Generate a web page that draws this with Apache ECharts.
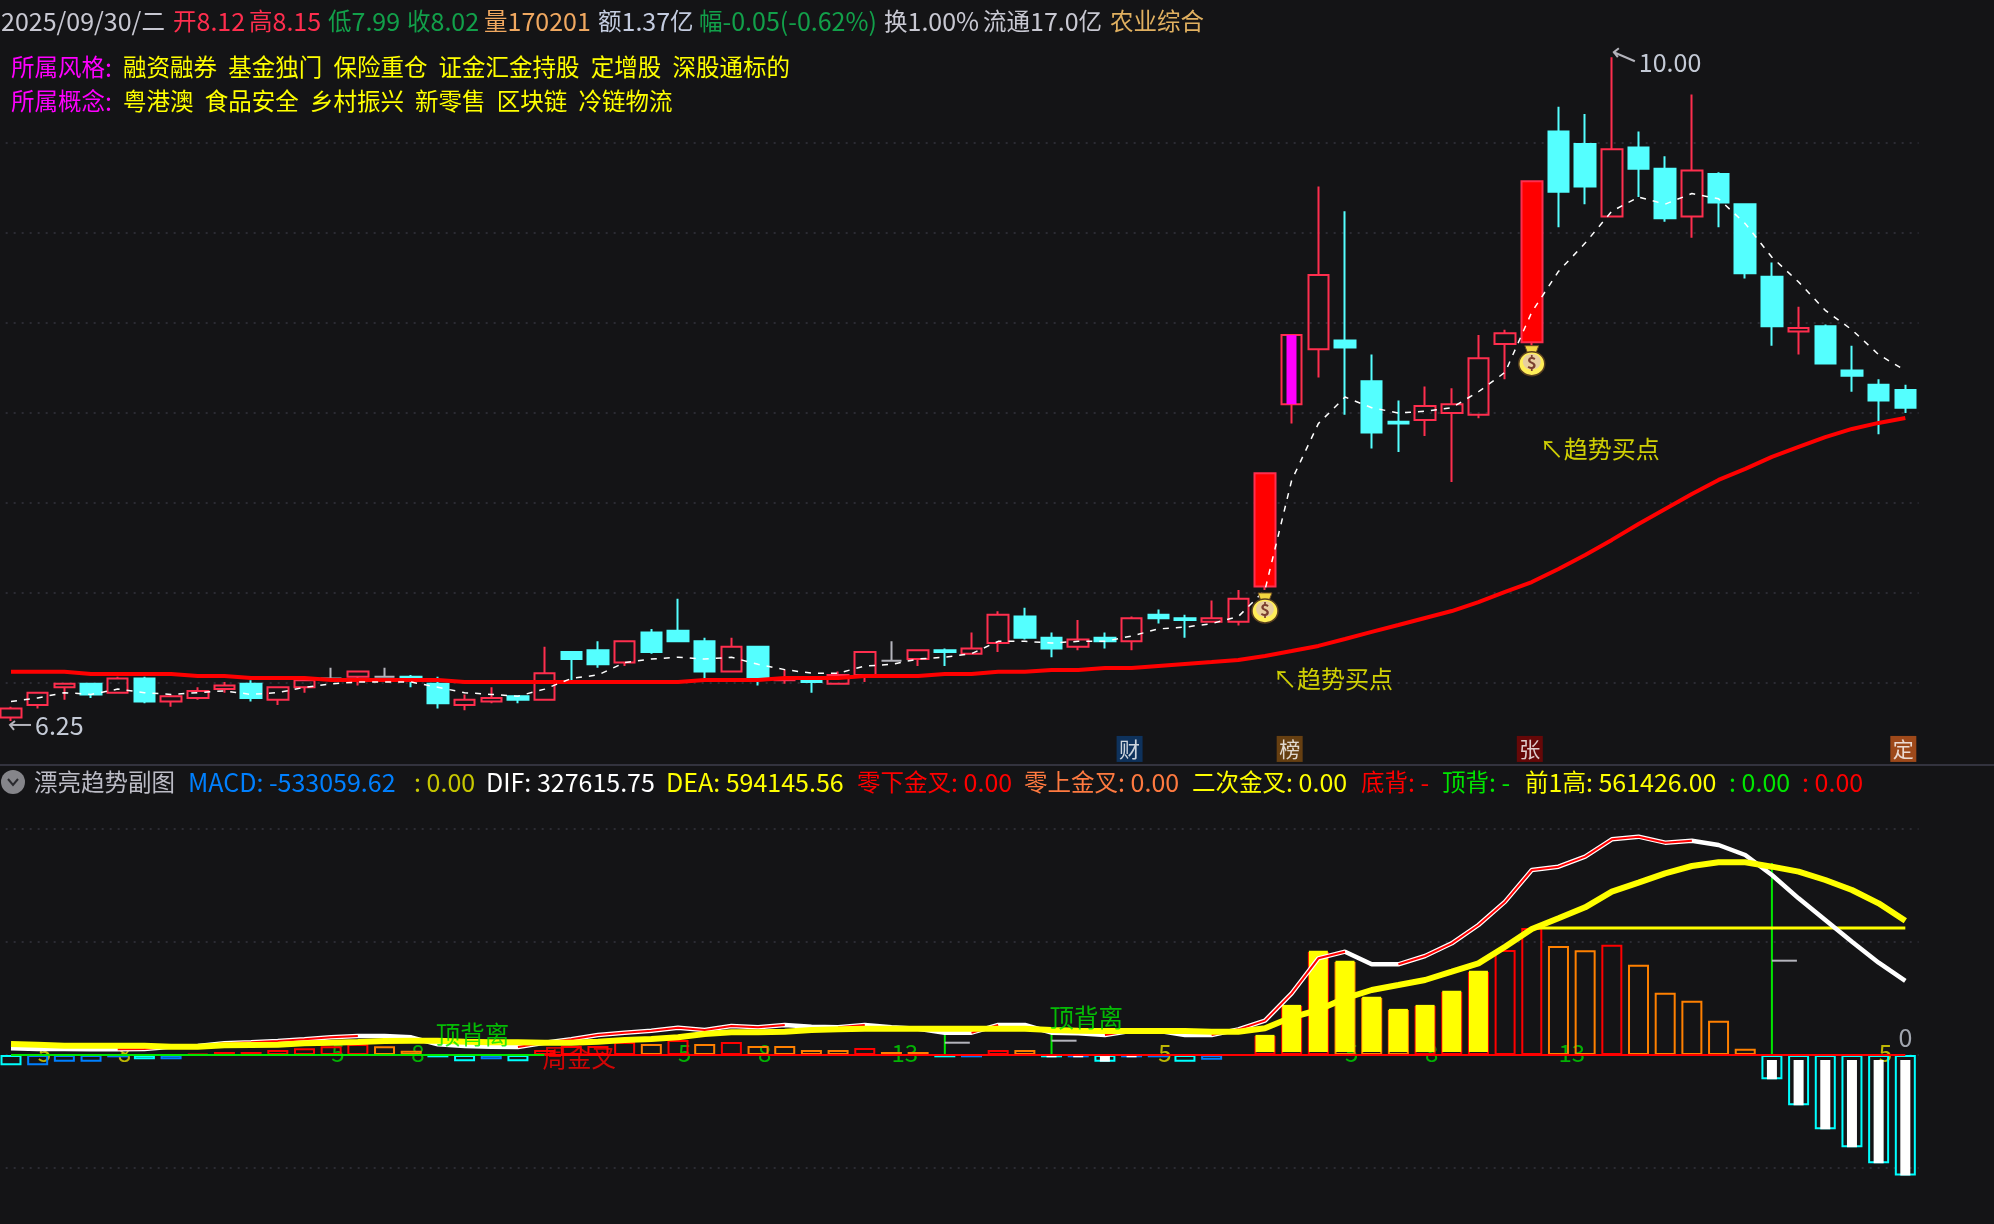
<!DOCTYPE html>
<html>
<head>
<meta charset="utf-8">
<title>漂亮趋势副图</title>
<script src="https://cdn.jsdelivr.net/npm/echarts@6/dist/echarts.min.js"></script>
<style>
html, body { margin: 0; padding: 0; background: #141416; }
#main { width: 1994px; height: 1224px; }
</style>
</head>
<body>
<div id="main"></div>
<script>
// K线
var opens = [6.27,6.34,6.44,6.46,6.41,6.49,6.36,6.38,6.43,6.46,6.37,6.44,6.49,6.50,6.50,6.50,6.46,6.34,6.36,6.39,6.37,6.64,6.65,6.58,6.75,6.76,6.70,6.53,6.67,6.48,6.48,6.46,6.51,6.59,6.60,6.65,6.63,6.69,6.84,6.72,6.67,6.72,6.70,6.85,6.83,6.81,6.81,7.01,8.04,8.35,8.40,8.17,7.94,7.95,7.99,7.98,8.38,8.39,9.58,9.51,9.10,9.49,9.37,9.10,9.34,9.17,8.76,8.45,8.48,8.23,8.15,8.12];
var closes = [6.32,6.41,6.46,6.40,6.49,6.36,6.39,6.42,6.45,6.38,6.44,6.48,6.49,6.53,6.50,6.48,6.35,6.37,6.38,6.37,6.52,6.60,6.57,6.70,6.64,6.70,6.53,6.67,6.49,6.49,6.47,6.51,6.64,6.59,6.65,6.64,6.66,6.85,6.72,6.66,6.71,6.70,6.83,6.83,6.82,6.83,6.94,7.65,8.43,8.77,8.36,7.88,7.93,8.03,8.04,8.30,8.44,9.30,9.24,9.27,9.48,9.37,9.09,9.36,9.18,8.78,8.48,8.47,8.27,8.20,8.06,8.02];
var lows = [6.25,6.32,6.37,6.38,6.41,6.35,6.33,6.37,6.41,6.36,6.34,6.41,6.49,6.45,6.50,6.44,6.32,6.31,6.35,6.35,6.37,6.48,6.55,6.56,6.63,6.70,6.49,6.53,6.45,6.46,6.41,6.46,6.47,6.59,6.56,6.56,6.63,6.64,6.71,6.61,6.65,6.66,6.65,6.80,6.72,6.81,6.79,6.99,7.93,8.19,7.98,7.79,7.77,7.86,7.60,7.96,8.18,8.37,9.04,9.17,9.10,9.21,9.07,8.98,9.04,8.75,8.37,8.32,8.27,8.11,7.87,7.99];
var highs = [6.33,6.41,6.46,6.46,6.50,6.50,6.39,6.44,6.47,6.48,6.44,6.48,6.55,6.53,6.55,6.51,6.50,6.40,6.44,6.39,6.67,6.64,6.70,6.70,6.77,6.94,6.72,6.72,6.67,6.54,6.48,6.53,6.64,6.70,6.65,6.66,6.75,6.87,6.89,6.75,6.82,6.75,6.84,6.88,6.85,6.93,6.99,7.65,8.43,9.27,9.13,8.32,8.06,8.14,8.13,8.43,8.46,9.30,9.72,9.68,10.00,9.58,9.44,9.79,9.35,9.17,8.84,8.59,8.49,8.37,8.18,8.15];
// 白色虚线
var shortMa = [6.36,6.38,6.41,6.40,6.43,6.41,6.40,6.41,6.42,6.40,6.41,6.44,6.46,6.47,6.47,6.47,6.44,6.41,6.40,6.39,6.43,6.49,6.51,6.58,6.60,6.61,6.60,6.61,6.57,6.54,6.52,6.52,6.56,6.57,6.60,6.61,6.63,6.70,6.70,6.69,6.70,6.70,6.73,6.77,6.78,6.80,6.84,6.99,7.61,7.93,8.08,8.02,7.99,8.00,8.02,8.11,8.22,8.56,8.79,8.95,9.13,9.21,9.17,9.23,9.20,9.06,8.87,8.73,8.57,8.46,8.32,8.23];
// 红色粗线
var longMa = [6.528,6.528,6.528,6.515,6.515,6.515,6.515,6.504,6.504,6.493,6.493,6.493,6.482,6.482,6.482,6.482,6.482,6.470,6.470,6.470,6.470,6.470,6.470,6.470,6.470,6.470,6.482,6.482,6.482,6.493,6.493,6.493,6.504,6.504,6.504,6.515,6.515,6.528,6.528,6.538,6.538,6.549,6.549,6.561,6.572,6.583,6.595,6.617,6.645,6.674,6.713,6.753,6.792,6.832,6.871,6.922,6.979,7.035,7.109,7.188,7.273,7.363,7.448,7.532,7.612,7.674,7.742,7.798,7.854,7.900,7.934,7.962];
// 副图
var macd = [-45600,-45600,-29600,-29600,-10200,-19000,-19000,4400,13300,13400,22100,29600,38500,48700,38500,19000,-10200,-27900,-19000,-27900,22100,39800,39900,57500,48700,66400,48700,57500,39800,39700,22100,21900,31000,13300,13200,-10200,-10200,22100,21900,-10200,-10200,-29600,-10200,-10200,-29600,-20800,0,84100,216800,455800,411500,252200,199100,216800,278800,367300,464600,561426,482300,463300,488100,399600,275700,240300,151800,27900,-107500,-222600,-328800,-408400,-479200,-533060];
var dif = [29500,26500,26500,25100,25100,26500,36900,39800,51600,56000,61900,69300,78200,84100,84100,78200,47200,39800,36900,35400,54600,69300,88500,98800,107700,120900,110600,128300,122400,132700,125400,122400,132700,122400,116500,98800,98800,132700,132700,98800,95900,88500,107700,107700,88500,88500,113600,151900,272900,427700,457200,401200,401200,438000,494100,575200,678500,818600,833300,877600,954300,966100,939500,948400,929200,885000,796500,693200,597400,501500,408500,327616];
var dea = [48700,45700,41300,41300,41300,41300,36900,36900,42800,44200,45700,51600,54600,57500,61900,63400,63400,59000,56000,56000,54600,54600,59000,66400,70800,78200,92900,100300,100300,103200,110600,113600,116500,116500,116500,116500,116500,116500,116500,110600,107700,106200,106200,106200,106200,103200,103200,118000,166700,199100,250700,287600,309700,331900,368700,405600,479300,557500,604700,653400,722700,762500,803800,836300,852500,852500,833300,811200,774300,730100,671100,594146];
var prevHigh = 561426;
var prevHighFrom = 57;
var zeroSwitch = 20;
var yellowBars = [47,48,49,50,51,52,53,54,55];
var whiteBars = [39,40,41,42,66,67,68,69,70,71];
var whiteGaps = [0,0,0,0,22000,22000,22000,22000,22000,22000];
var signalIdx = [35,39,66];
var signalTop = [119500,119500,849600];
var signalTick = [54400,63300,417300];
var countIdx = [1,4,12,15,25,28,33,43,50,53,58,70];
var countText = ['5','8','5','8','5','8','13','5','5','8','13','5'];
var countYellow = [true,true,false,false,false,false,false,true,false,false,false,true];
// 标记
var tagIdx = [42,48,57,71];
var tagText = ['财','榜','张','定'];
var tagColor = ['#0d3a6e','#7a4a10','#7a0505','#c0561c'];
var tagPrice = 6.092;
var bagIdx = [47,57];
var bagPrice = [6.883,8.28];
var buyIdx = [47,57];
var buyPrice = [6.487,7.787];

var FONT = '"Noto Sans CJK SC", "Noto Sans", sans-serif';
var RED = '#ff2e4e';
var CYAN = '#54ffff';
var GRAY = '#b4b4bc';
var BG = '#141416';

var xIndex = opens.map(function (v, i) { return String(i); });
var candleData = opens.map(function (o, i) {
    var item = { value: [o, closes[i], lows[i], highs[i]] };
    if (o === closes[i]) {
        item.itemStyle = { color: GRAY, color0: GRAY, borderColor: GRAY, borderColor0: GRAY, borderColorDoji: GRAY };
    }
    if (i === 47 || i === 57) {
        item.itemStyle = { color: '#ff0000', borderColor: RED };
    }
    return item;
});
var purpleData = opens.map(function (o, i) {
    return i === 48 ? [o, closes[i], o, closes[i]] : [null, null, null, null];
});

function barColor(i) {
    var v = macd[i], prev = i > 0 ? macd[i - 1] : 0;
    if (v < 0) {
        return i === 0 || prev >= 0 || v < prev ? '#00ffff' : '#0080ff';
    }
    return v > prev ? '#ff0000' : '#ff8000';
}
var macdData = macd.map(function (v, i) {
    return {
        value: v,
        itemStyle: { color: 'transparent', borderColor: barColor(i), borderWidth: 2 }
    };
});
// DIF上升段中间的细红线
var difRising = dif.map(function (v, i) {
    var up = (i > 0 && v > dif[i - 1]) || (i < dif.length - 1 && dif[i + 1] > v);
    return up ? v : null;
});
var zeroLow = macd.map(function (v, i) { return i <= zeroSwitch ? 0 : null; });
var zeroHigh = macd.map(function (v, i) { return i >= zeroSwitch ? 0 : null; });
var prevHighLine = macd.map(function (v, i) { return i >= prevHighFrom ? prevHigh : null; });

// 柱子里面的实心部分
function fillRenderer(width, color) {
    return function (params, api) {
        var a = api.coord([api.value(0), api.value(1)]);
        var b = api.coord([api.value(0), api.value(2)]);
        return {
            type: 'rect',
            shape: { x: a[0] - width / 2, y: Math.min(a[1], b[1]), width: width, height: Math.abs(a[1] - b[1]) },
            style: { fill: color }
        };
    };
}
function renderSignal(params, api) {
    var x0 = api.coord([api.value(0), 0]);
    var top = api.coord([api.value(0), api.value(1)]);
    var tick = api.coord([api.value(0), api.value(2)]);
    return {
        type: 'group',
        children: [
            { type: 'line', shape: { x1: x0[0], y1: x0[1], x2: top[0], y2: top[1] }, style: { stroke: '#00e600', lineWidth: 2 } },
            { type: 'line', shape: { x1: tick[0], y1: tick[1], x2: tick[0] + 25, y2: tick[1] }, style: { stroke: GRAY, lineWidth: 2 } }
        ]
    };
}
function renderBag(params, api) {
    var p = api.coord([api.value(0), api.value(1)]);
    return {
        type: 'group',
        children: [
            { type: 'polygon', shape: { points: [[p[0] - 7, p[1] - 16], [p[0] + 7, p[1] - 16], [p[0] + 4, p[1] - 8], [p[0] - 4, p[1] - 8]] }, style: { fill: '#f4d640', stroke: '#6a4a20', lineWidth: 1 } },
            { type: 'ellipse', shape: { cx: p[0], cy: p[1] + 2, rx: 13, ry: 12 }, style: { fill: '#ffee58', stroke: '#5a4020', lineWidth: 1.5 } },
            { type: 'ellipse', shape: { cx: p[0], cy: p[1] + 0, rx: 9, ry: 8 }, style: { fill: '#e8cfa0' } },
            { type: 'text', style: { x: p[0], y: p[1] + 1, text: '$', fill: '#7a3f30', font: 'bold 17px ' + FONT, textAlign: 'center', textVerticalAlign: 'middle' } }
        ]
    };
}
// 最高最低价箭头
function renderExtreme(params, api) {
    var p = api.coord([api.value(0), api.value(1)]);
    var isHigh = api.value(2) === 1;
    var tipX = isHigh ? p[0] + 2 : p[0] - 1;
    var tipY = isHigh ? p[1] - 5 : p[1] + 4;
    var endX = tipX + 21;
    var endY = isHigh ? tipY + 9 : tipY;
    return {
        type: 'group',
        children: [
            { type: 'polyline', shape: { points: [[endX, endY], [tipX, tipY]] }, style: { stroke: GRAY, lineWidth: 2, fill: null } },
            { type: 'polyline', shape: { points: [[tipX + 5, tipY - 4], [tipX, tipY], [tipX + 4, tipY + 5]] }, style: { stroke: GRAY, lineWidth: 2, fill: null } },
            { type: 'text', style: { x: endX + 4, y: endY + 1, text: isHigh ? '10.00' : '6.25', fill: '#c4cad6', font: '25px ' + FONT, textVerticalAlign: 'middle' } }
        ]
    };
}

// 顶部文字
var headerRuns = [
    ['2025/09/30/二', 1, '#c8c8d2'], ['开8.12', 173, RED], ['高8.15', 249, RED], ['低7.99', 328, '#12a04a'],
    ['收8.02', 407, '#12a04a'], ['量170201', 484, '#f0a860'], ['额1.37亿', 598, '#c4cce0'], ['幅-0.05(-0.62%)', 699, '#12a04a'],
    ['换1.00%', 884, '#c8c8d2'], ['流通17.0亿', 983, '#c8c8d2'], ['农业综合', 1110, '#e0b060']
];
var styleLine = '融资融券  基金独门  保险重仓  证金汇金持股  定增股  深股通标的';
var conceptLine = '粤港澳  食品安全  乡村振兴  新零售  区块链  冷链物流';
var subRuns = [
    ['漂亮趋势副图', 34, '#bcbcc6'], ['MACD: -533059.62', 188, '#0080ff'], [': 0.00', 414, '#c8c800'], ['DIF: 327615.75', 486, '#ffffff'],
    ['DEA: 594145.56', 666, '#ffff00'], ['零下金叉: 0.00', 857, '#ff0000'], ['零上金叉: 0.00', 1024, '#ff7a40'], ['二次金叉: 0.00', 1192, '#ffff00'],
    ['底背: -', 1361, '#ff0000'], ['顶背: -', 1442, '#00e600'], ['前1高: 561426.00', 1525, '#ffff00'], [': 0.00', 1729, '#00e600'], [': 0.00', 1802, '#ff0000']
];
// 西文数字比汉字显得大，分开给字号
function textEl(t, x, y, color) {
    var parts = t.match(/[\x00-\x7f]+|[^\x00-\x7f]+/g);
    var s = parts.map(function (p) {
        return (/^[\x00-\x7f]/.test(p) ? '{a|' : '{c|') + p + '}';
    }).join('');
    return {
        type: 'text', z: 50,
        style: {
            text: s, x: x, y: y, textVerticalAlign: 'middle',
            rich: {
                a: { fill: color, fontSize: 25, fontFamily: FONT },
                c: { fill: color, fontSize: 23.5, fontFamily: FONT }
            }
        }
    };
}
var graphics = [];
headerRuns.forEach(function (r) { graphics.push(textEl(r[0], r[1], 21, r[2])); });
graphics.push(textEl('所属风格:', 11, 67, '#ff00ff'));
graphics.push(textEl(styleLine, 123, 67, '#ffff00'));
graphics.push(textEl('所属概念:', 11, 101, '#ff00ff'));
graphics.push(textEl(conceptLine, 123, 101, '#ffff00'));
subRuns.forEach(function (r) { graphics.push(textEl(r[0], r[1], 782, r[2])); });
graphics.push({ type: 'rect', z: 50, shape: { x: 0, y: 764, width: 1994, height: 2 }, style: { fill: '#33333e' } });
graphics.push({ type: 'circle', z: 50, shape: { cx: 13, cy: 782, r: 12 }, style: { fill: '#85858a' } });
graphics.push({ type: 'polyline', z: 51, shape: { points: [[8, 779], [13, 785], [18, 779]] }, style: { stroke: '#2a2a2e', lineWidth: 2, fill: null } });

function subLabel(idx, val, text, color, size) {
    return {
        value: [idx, val],
        label: { show: true, position: 'inside', offset: [8, 0], formatter: text, color: color, fontSize: size, fontFamily: FONT }
    };
}

var chart = echarts.init(document.getElementById('main'));
chart.setOption({
    backgroundColor: BG,
    animation: false,
    graphic: graphics,
    grid: [
        { left: -2.34, width: 1921, top: 53, height: 720, outerBoundsMode: 'none' },
        { left: -2.34, width: 1921, top: 829, height: 452, outerBoundsMode: 'none' }
    ],
    xAxis: [
        { type: 'category', gridIndex: 0, data: xIndex, show: false },
        { type: 'category', gridIndex: 1, data: xIndex, show: false }
    ],
    yAxis: [
        { type: 'value', gridIndex: 0, min: 5.956, max: 10.024, show: false, splitLine: { show: false } },
        // 主图虚线网格，每格90px
        {
            type: 'value', gridIndex: 0, min: -1, max: 7, interval: 1, position: 'right',
            axisLine: { show: false }, axisTick: { show: false }, axisLabel: { show: false },
            splitLine: { show: true, showMinLine: false, showMaxLine: false, lineStyle: { color: '#34343e', width: 1.5, type: [2, 6] } }
        },
        {
            type: 'value', gridIndex: 1, min: -1000000, max: 1000000, interval: 500000,
            axisLine: { show: false }, axisTick: { show: false }, axisLabel: { show: false },
            splitLine: { show: true, lineStyle: { color: '#34343e', width: 1.5, type: [2, 6] } }
        }
    ],
    series: [
        {
            name: 'K线', type: 'candlestick', xAxisIndex: 0, yAxisIndex: 0, barWidth: 21, clip: false,
            data: candleData,
            itemStyle: { color: 'transparent', color0: CYAN, borderColor: RED, borderColor0: CYAN, borderColorDoji: GRAY, borderWidth: 2 }
        },
        {
            name: '紫柱', type: 'candlestick', xAxisIndex: 0, yAxisIndex: 0, barWidth: 10, z: 3,
            data: purpleData,
            itemStyle: { color: '#ff00ff', color0: '#ff00ff', borderColor: '#ff00ff', borderColor0: '#ff00ff', borderWidth: 0 }
        },
        {
            name: '长均线', type: 'line', xAxisIndex: 0, yAxisIndex: 0, data: longMa, symbol: 'none', z: 4,
            lineStyle: { color: '#ff0000', width: 4 }
        },
        {
            name: '短均线', type: 'line', xAxisIndex: 0, yAxisIndex: 0, data: shortMa, symbol: 'none', z: 5,
            lineStyle: { color: '#ffffff', width: 1.5, type: [6, 7] }
        },
        {
            name: '标记', type: 'scatter', xAxisIndex: 0, yAxisIndex: 0, symbol: 'rect', symbolSize: [26, 26], symbolOffset: [-2, 0], z: 6,
            data: tagIdx.map(function (idx, i) {
                return {
                    value: [idx, tagPrice], itemStyle: { color: tagColor[i] },
                    label: { show: true, position: 'inside', formatter: tagText[i], color: '#ffffff', fontSize: 21, fontFamily: FONT }
                };
            })
        },
        {
            name: '买点', type: 'scatter', xAxisIndex: 0, yAxisIndex: 0, symbolSize: 0, z: 6,
            data: buyIdx.map(function (idx, i) { return [idx, buyPrice[i]]; }),
            label: { show: true, position: 'right', distance: 8, formatter: '↖趋势买点', color: '#ffff00', fontSize: 24, fontFamily: FONT }
        },
        {
            name: '钱袋', type: 'custom', xAxisIndex: 0, yAxisIndex: 0, z: 7, renderItem: renderBag,
            data: bagIdx.map(function (idx, i) { return [idx, bagPrice[i]]; })
        },
        {
            name: '高低点', type: 'custom', xAxisIndex: 0, yAxisIndex: 0, z: 7, clip: false, renderItem: renderExtreme,
            data: [[0, Math.min.apply(null, lows), 0], [60, Math.max.apply(null, highs), 1]]
        },
        {
            name: '计数', type: 'scatter', xAxisIndex: 1, yAxisIndex: 2, symbolSize: 0, z: 1,
            data: countIdx.map(function (idx, i) {
                return {
                    value: [idx, 0],
                    label: { show: true, position: 'inside', align: 'left', offset: [0, -2], formatter: countText[i], color: countYellow[i] ? '#e8e000' : '#00d800', fontSize: 24, fontFamily: FONT }
                };
            })
        },
        {
            name: 'MACD', type: 'bar', xAxisIndex: 1, yAxisIndex: 2, barWidth: 21, z: 2,
            data: macdData
        },
        {
            name: '黄柱', type: 'custom', xAxisIndex: 1, yAxisIndex: 2, z: 3, renderItem: fillRenderer(19, '#ffff00'),
            data: yellowBars.map(function (idx) { return [idx, 13000, macd[idx] + 5000]; })
        },
        {
            name: '白柱', type: 'custom', xAxisIndex: 1, yAxisIndex: 2, z: 3, renderItem: fillRenderer(10, '#ffffff'),
            data: whiteBars.map(function (idx, i) { return [idx, -whiteGaps[i], macd[idx]]; })
        },
        {
            name: '信号', type: 'custom', xAxisIndex: 1, yAxisIndex: 2, z: 4, renderItem: renderSignal,
            data: signalIdx.map(function (idx, i) { return [idx, signalTop[i], signalTick[i]]; })
        },
        {
            name: '零轴绿', type: 'line', xAxisIndex: 1, yAxisIndex: 2, data: zeroLow, symbol: 'none', z: 5,
            lineStyle: { color: '#00e600', width: 2 }
        },
        {
            name: '零轴红', type: 'line', xAxisIndex: 1, yAxisIndex: 2, data: zeroHigh, symbol: 'none', z: 5,
            lineStyle: { color: '#ff0000', width: 2 }
        },
        {
            name: '前1高', type: 'line', xAxisIndex: 1, yAxisIndex: 2, data: prevHighLine, symbol: 'none', z: 5,
            lineStyle: { color: '#ffff00', width: 3 }
        },
        {
            name: 'DIF', type: 'line', xAxisIndex: 1, yAxisIndex: 2, data: dif, symbol: 'none', z: 6,
            lineStyle: { color: '#ffffff', width: 4.5 }
        },
        {
            name: 'DIF升', type: 'line', xAxisIndex: 1, yAxisIndex: 2, data: difRising, symbol: 'none', z: 7,
            lineStyle: { color: '#ff0000', width: 2 }
        },
        {
            name: 'DEA', type: 'line', xAxisIndex: 1, yAxisIndex: 2, data: dea, symbol: 'none', z: 8,
            lineStyle: { color: '#ffff00', width: 6 }
        },
        {
            name: '文字', type: 'scatter', xAxisIndex: 1, yAxisIndex: 2, symbolSize: 0, z: 9,
            data: [
                subLabel(17, 88500, '顶背离', '#00e600', 24.5),
                subLabel(40, 163000, '顶背离', '#00e600', 24.5),
                subLabel(21, -13000, '周金叉', '#ff0000', 24.5),
                { value: [71, 78000], label: { show: true, position: 'inside', formatter: '0', color: '#c4cad6', fontSize: 25, fontFamily: FONT } }
            ]
        }
    ]
});
</script>
</body>
</html>
